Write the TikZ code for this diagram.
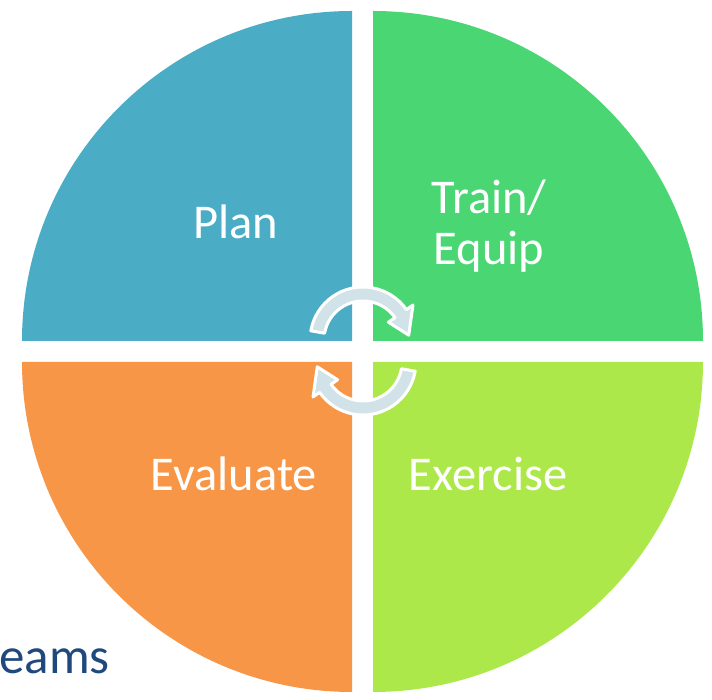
\documentclass[tikz,border=0pt]{standalone}
\usepackage{fontspec}
\usetikzlibrary{calc}
\setmainfont{Carlito}
\definecolor{planblue}{HTML}{4BACC6}
\definecolor{traingreen}{HTML}{4AD672}
\definecolor{exgreen}{HTML}{ACE84A}
\definecolor{evalorange}{HTML}{F79646}
\definecolor{arrowfill}{HTML}{D1E3E9}
\definecolor{teamblue}{HTML}{1F497D}
\tikzset{
  quad/.style={draw=none},
  lbl/.style={text=white, inner sep=0pt, font=\fontsize{48.5}{51}\selectfont, align=center},
  cyc/.style={fill=arrowfill, draw=white, line width=3pt, line join=round},
}
\begin{document}
\begin{tikzpicture}[x=1pt,y=1pt]
\useasboundingbox (0,0) rectangle (712,700);
% quadrants
\fill[quad, planblue] (352,359) -- (22,359) arc (180:90:330pt) -- cycle;
\fill[quad, traingreen] (373,359) -- (373,689) arc (90:0:330pt) -- cycle;
\fill[quad, evalorange] (352,338) -- (22,338) arc (180:270:330pt) -- cycle;
\fill[quad, exgreen] (373,338) -- (703,338) arc (0:-90:330pt) -- cycle;
% labels
\node[lbl, anchor=base] (plan) at (236,461) {Plan};
\node[lbl, anchor=base] (train) at (489,435) {Train/\\Equip};
\node[lbl, anchor=base] (eval) at (234,209) {Evaluate};
\node[lbl, anchor=base] (exer) at (488,209) {Exercise};
% cycle arrows
\begin{scope}[shift={(363,349)}]
  \draw[cyc] ($(0,11)+(170:53pt)$) arc (170:35:53pt)
     -- ($(0,11)+(35:61pt)$) -- ($(0,11)+(6:46pt)$) -- ($(0,11)+(35:31pt)$)
     -- ($(0,11)+(35:39pt)$) arc (35:170:39pt) -- cycle;
\end{scope}
\begin{scope}[shift={(363,349)}, rotate=180]
  \draw[cyc] ($(0,11)+(170:53pt)$) arc (170:35:53pt)
     -- ($(0,11)+(35:61pt)$) -- ($(0,11)+(6:46pt)$) -- ($(0,11)+(35:31pt)$)
     -- ($(0,11)+(35:39pt)$) arc (35:170:39pt) -- cycle;
\end{scope}
% cut-off text
\node[text=teamblue, inner sep=0pt, anchor=base west, font=\fontsize{51}{54}\selectfont] (teams) at (-1,26) {eams};
\end{tikzpicture}
\end{document}
